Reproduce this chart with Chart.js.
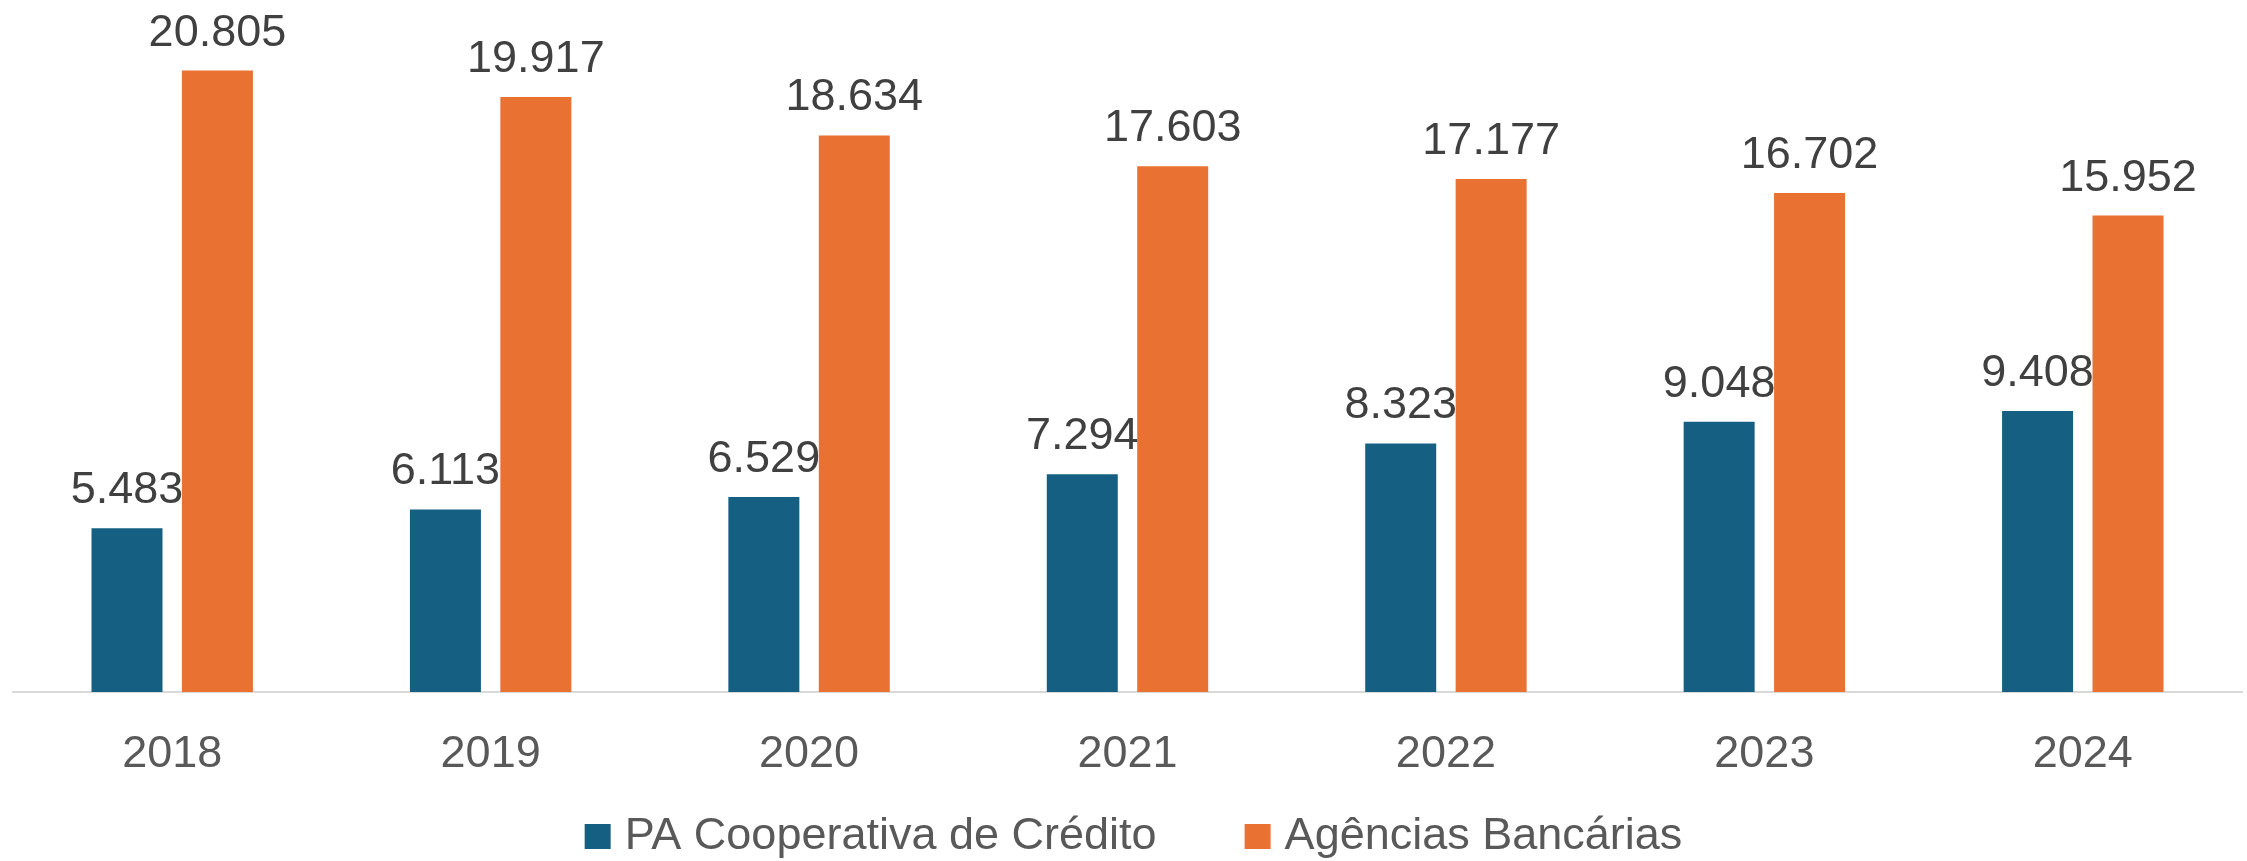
<!DOCTYPE html>
<html>
<head>
<meta charset="utf-8">
<script src="https://cdn.jsdelivr.net/npm/chart.js@4.4.1/dist/chart.umd.min.js"></script>
<style>
  html, body { margin: 0; padding: 0; background: #ffffff; }
  #wrap { position: relative; width: 2247px; height: 861px; }
</style>
</head>
<body>
<div id="wrap"><canvas id="c" width="2247" height="861"></canvas></div>
<script>
const categories = ['2018', '2019', '2020', '2021', '2022', '2023', '2024'];
const seriesNames = ['PA Cooperativa de Crédito', 'Agências Bancárias'];
const paCooperativa = [5483, 6113, 6529, 7294, 8323, 9048, 9408];
const agenciasBancarias = [20805, 19917, 18634, 17603, 17177, 16702, 15952];
const seriesColors = ['#156082', '#E97132'];

const FONT = '"Liberation Sans", Arial, sans-serif';
const FONT_SIZE = 45;

const fmt = v => v.toLocaleString('pt-BR');

const dataLabels = {
  id: 'dataLabels',
  afterDatasetsDraw(chart) {
    const ctx = chart.ctx;
    ctx.save();
    ctx.font = FONT_SIZE + 'px ' + FONT;
    ctx.fillStyle = '#404040';
    ctx.textAlign = 'center';
    ctx.textBaseline = 'alphabetic';
    chart.data.datasets.forEach((ds, di) => {
      const meta = chart.getDatasetMeta(di);
      meta.data.forEach((bar, i) => {
        ctx.fillText(fmt(ds.data[i]), bar.x, bar.y - 25);
      });
    });
    ctx.restore();
  }
};

const customLegend = {
  id: 'customLegend',
  afterDraw(chart) {
    const ctx = chart.ctx;
    ctx.save();
    ctx.font = FONT_SIZE + 'px ' + FONT;
    ctx.textBaseline = 'alphabetic';
    const box = 26, gapText = 14, gapItem = 88;
    const widths = seriesNames.map(n => ctx.measureText(n).width);
    const total = widths.reduce((s, w) => s + box + gapText + w, 0) + gapItem * (seriesNames.length - 1);
    let x = (chart.width - total) / 2 + 10;
    const baseY = 849;
    seriesNames.forEach((n, i) => {
      ctx.fillStyle = seriesColors[i];
      ctx.fillRect(x, baseY - 25, box, 25);
      ctx.fillStyle = '#595959';
      ctx.textAlign = 'left';
      ctx.fillText(n, x + box + gapText, baseY);
      x += box + gapText + widths[i] + gapItem;
    });
    ctx.restore();
  }
};

new Chart(document.getElementById('c'), {
  type: 'bar',
  data: {
    labels: categories,
    datasets: [
      { label: seriesNames[0], data: paCooperativa, backgroundColor: seriesColors[0] },
      { label: seriesNames[1], data: agenciasBancarias, backgroundColor: seriesColors[1] }
    ]
  },
  options: {
    responsive: false,
    animation: false,
    devicePixelRatio: 1,
    layout: { padding: { top: 5, left: 13, right: 5, bottom: 43 } },
    datasets: { bar: { categoryPercentage: 0.568, barPercentage: 0.785 } },
    plugins: {
      legend: { display: false },
      tooltip: { enabled: false }
    },
    scales: {
      x: {
        grid: { display: false, drawTicks: false },
        border: { display: true, color: '#D9D9D9', width: 2 },
        ticks: { color: '#595959', font: { family: FONT, size: FONT_SIZE }, padding: 36 }
      },
      y: {
        display: false,
        min: 0,
        max: 23000
      }
    }
  },
  plugins: [dataLabels, customLegend]
});
</script>
</body>
</html>
